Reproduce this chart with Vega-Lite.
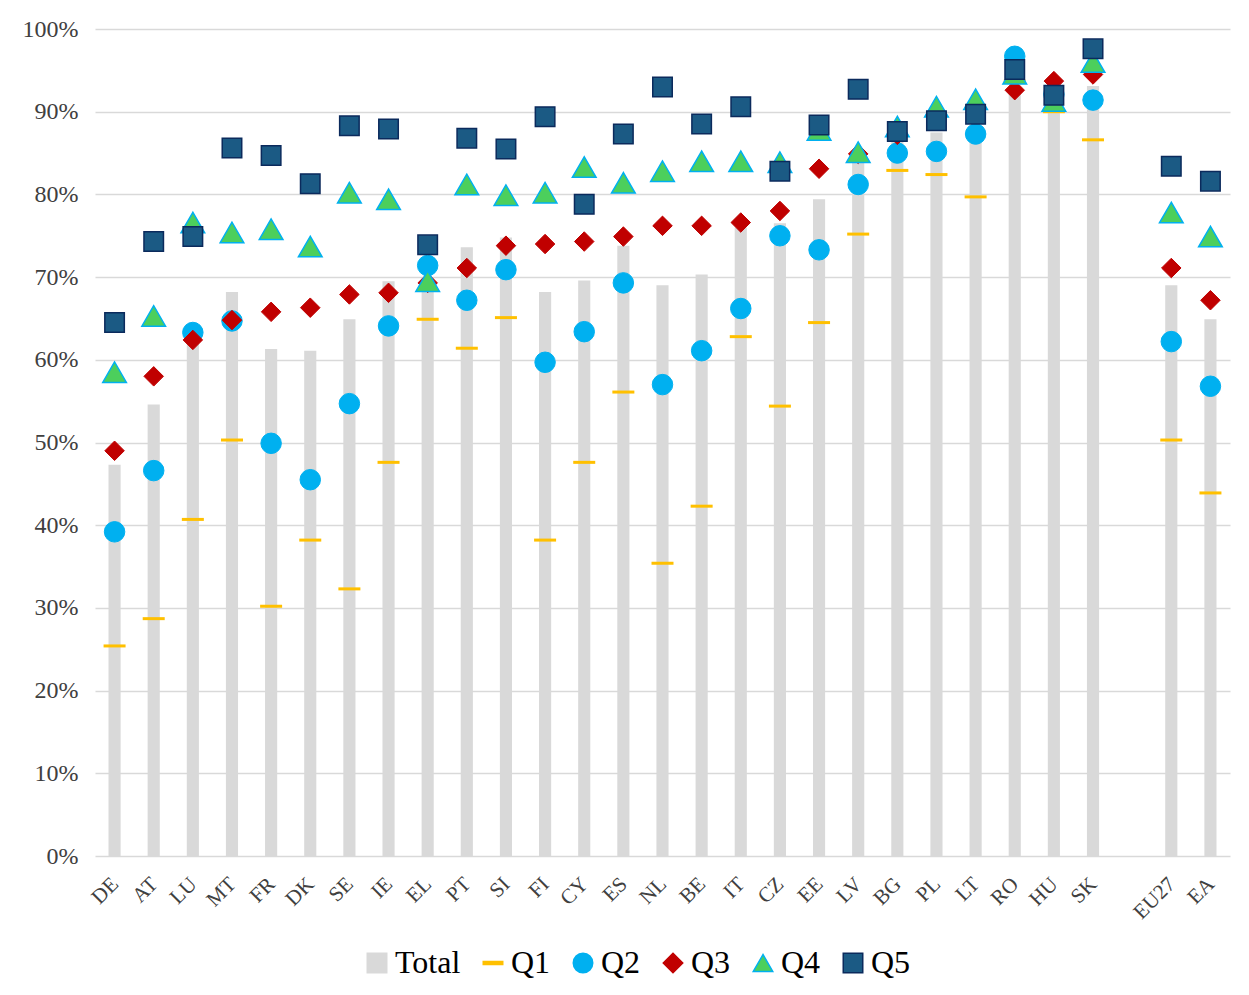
{
  "$schema": "https://vega.github.io/schema/vega-lite/v6.json",
  "autosize": {"type": "none"},
  "width": 1135,
  "height": 827,
  "padding": {"left": 95, "top": 29, "right": 19, "bottom": 139},
  "background": "white",
  "config": {"view": {"stroke": null}, "font": "Liberation Serif"},
  "data": {
    "values": [
      {"country": "DE", "Total": 47.3, "Q1": 25.4, "Q2": 39.2, "Q3": 49.0, "Q4": 58.5, "Q5": 64.5},
      {"country": "AT", "Total": 54.6, "Q1": 28.7, "Q2": 46.6, "Q3": 58.0, "Q4": 65.3, "Q5": 74.3},
      {"country": "LU", "Total": 62.0, "Q1": 40.7, "Q2": 63.3, "Q3": 62.4, "Q4": 76.6, "Q5": 74.9},
      {"country": "MT", "Total": 68.2, "Q1": 50.3, "Q2": 64.7, "Q3": 64.8, "Q4": 75.4, "Q5": 85.6},
      {"country": "FR", "Total": 61.3, "Q1": 30.2, "Q2": 49.9, "Q3": 65.8, "Q4": 75.8, "Q5": 84.7},
      {"country": "DK", "Total": 61.1, "Q1": 38.2, "Q2": 45.5, "Q3": 66.3, "Q4": 73.7, "Q5": 81.3},
      {"country": "SE", "Total": 64.9, "Q1": 32.3, "Q2": 54.7, "Q3": 67.9, "Q4": 80.2, "Q5": 88.3},
      {"country": "IE", "Total": 69.5, "Q1": 47.6, "Q2": 64.1, "Q3": 68.1, "Q4": 79.4, "Q5": 87.9},
      {"country": "EL", "Total": 70.0, "Q1": 64.9, "Q2": 71.4, "Q3": 69.3, "Q4": 69.5, "Q5": 73.9},
      {"country": "PT", "Total": 73.6, "Q1": 61.4, "Q2": 67.2, "Q3": 71.1, "Q4": 81.2, "Q5": 86.8},
      {"country": "SI", "Total": 74.8, "Q1": 65.1, "Q2": 70.9, "Q3": 73.8, "Q4": 79.9, "Q5": 85.5},
      {"country": "FI", "Total": 68.2, "Q1": 38.2, "Q2": 59.7, "Q3": 74.0, "Q4": 80.2, "Q5": 89.4},
      {"country": "CY", "Total": 69.6, "Q1": 47.6, "Q2": 63.4, "Q3": 74.3, "Q4": 83.3, "Q5": 78.8},
      {"country": "ES", "Total": 73.8, "Q1": 56.1, "Q2": 69.3, "Q3": 74.9, "Q4": 81.4, "Q5": 87.3},
      {"country": "NL", "Total": 69.0, "Q1": 35.4, "Q2": 57.0, "Q3": 76.2, "Q4": 82.8, "Q5": 93.0},
      {"country": "BE", "Total": 70.3, "Q1": 42.3, "Q2": 61.1, "Q3": 76.2, "Q4": 84.0, "Q5": 88.5},
      {"country": "IT", "Total": 76.0, "Q1": 62.8, "Q2": 66.2, "Q3": 76.6, "Q4": 84.0, "Q5": 90.6},
      {"country": "CZ", "Total": 76.5, "Q1": 54.4, "Q2": 75.0, "Q3": 78.0, "Q4": 83.9, "Q5": 82.8},
      {"country": "EE", "Total": 79.4, "Q1": 64.5, "Q2": 73.3, "Q3": 83.1, "Q4": 87.8, "Q5": 88.4},
      {"country": "LV", "Total": 84.5, "Q1": 75.2, "Q2": 81.2, "Q3": 84.9, "Q4": 85.1, "Q5": 92.7},
      {"country": "BG", "Total": 86.5, "Q1": 82.9, "Q2": 85.0, "Q3": 87.2, "Q4": 88.2, "Q5": 87.6},
      {"country": "PL", "Total": 87.5, "Q1": 82.4, "Q2": 85.2, "Q3": 89.6, "Q4": 90.6, "Q5": 88.9},
      {"country": "LT", "Total": 88.0, "Q1": 79.7, "Q2": 87.3, "Q3": 89.9, "Q4": 91.5, "Q5": 89.7},
      {"country": "RO", "Total": 93.0, "Q1": 93.7, "Q2": 96.7, "Q3": 92.6, "Q4": 94.6, "Q5": 95.1},
      {"country": "HU", "Total": 91.0, "Q1": 90.0, "Q2": 92.1, "Q3": 93.7, "Q4": 91.3, "Q5": 92.0},
      {"country": "SK", "Total": 93.1, "Q1": 86.6, "Q2": 91.4, "Q3": 94.5, "Q4": 96.0, "Q5": 97.6},
      {"country": "EU27", "Total": 69.0, "Q1": 50.3, "Q2": 62.2, "Q3": 71.1, "Q4": 77.8, "Q5": 83.4},
      {"country": "EA", "Total": 64.9, "Q1": 43.9, "Q2": 56.8, "Q3": 67.2, "Q4": 74.9, "Q5": 81.6}
    ]
  },
  "transform": [{"fold": ["Total", "Q1", "Q2", "Q3", "Q4", "Q5"], "as": ["series", "value"]}],
  "encoding": {
    "x": {
      "field": "country",
      "type": "nominal",
      "sort": null,
      "scale": {
        "domain": ["DE", "AT", "LU", "MT", "FR", "DK", "SE", "IE", "EL", "PT", "SI", "FI", "CY", "ES", "NL", "BE", "IT", "CZ", "EE", "LV", "BG", "PL", "LT", "RO", "HU", "SK", " ", "EU27", "EA"],
        "paddingInner": 0,
        "paddingOuter": 0
      },
      "axis": {
        "title": null,
        "labelAngle": -45,
        "labelFont": "Liberation Serif",
        "labelFontSize": 21,
        "labelColor": "#404040",
        "labelPadding": 17,
        "labelOffset": -7,
        "domain": false,
        "ticks": false,
        "grid": false
      }
    },
    "y": {
      "field": "value",
      "type": "quantitative",
      "stack": null,
      "scale": {"domain": [0, 100], "nice": false},
      "axis": {
        "title": null,
        "values": [0, 10, 20, 30, 40, 50, 60, 70, 80, 90, 100],
        "labelExpr": "datum.value + '%'",
        "labelFont": "Liberation Serif",
        "labelFontSize": 24,
        "labelColor": "#404040",
        "labelPadding": 17,
        "domain": false,
        "ticks": false,
        "grid": true,
        "gridColor": "#d9d9d9",
        "gridWidth": 1.5
      }
    },
    "color": {
      "field": "series",
      "type": "nominal",
      "scale": {
        "domain": ["Total", "Q1", "Q2", "Q3", "Q4", "Q5"],
        "range": ["#d9d9d9", "#ffc000", "#00b0f0", "#c00000", "#4ccf5c", "#1b5a84"]
      },
      "legend": {
        "title": null,
        "orient": "none",
        "legendX": 266,
        "legendY": 918,
        "direction": "horizontal",
        "labelFont": "Liberation Serif",
        "labelFontSize": 32,
        "labelColor": "#000000",
        "symbolSize": 380,
        "symbolStrokeWidth": 1.5,
        "labelOffset": 2,
        "columnPadding": 16
      }
    },
    "shape": {
      "field": "series",
      "type": "nominal",
      "scale": {
        "domain": ["Total", "Q1", "Q2", "Q3", "Q4", "Q5"],
        "range": ["square", "M-1,-0.16H1V0.16H-1Z", "circle", "diamond", "triangle-up", "square"]
      }
    },
    "stroke": {
      "field": "series",
      "type": "nominal",
      "scale": {
        "domain": ["Total", "Q1", "Q2", "Q3", "Q4", "Q5"],
        "range": ["#d9d9d9", "#ffc000", "#00b0f0", "#c00000", "#00b0f0", "#0b2a5c"]
      }
    }
  },
  "layer": [
    {
      "transform": [{"filter": "datum.series === 'Total'"}],
      "mark": {"type": "bar", "width": {"band": 0.31}, "strokeWidth": 0}
    },
    {
      "transform": [{"filter": "datum.series === 'Q1'"}],
      "mark": {"type": "tick", "orient": "horizontal", "size": 22, "thickness": 3, "opacity": 1, "strokeWidth": 0}
    },
    {
      "transform": [{"filter": "datum.series === 'Q2'"}],
      "mark": {"type": "point", "filled": true, "opacity": 1, "size": 420, "strokeWidth": 1}
    },
    {
      "transform": [{"filter": "datum.series === 'Q3'"}],
      "mark": {"type": "point", "filled": true, "opacity": 1, "size": 380, "strokeWidth": 1}
    },
    {
      "transform": [{"filter": "datum.series === 'Q4'"}],
      "mark": {"type": "point", "filled": true, "opacity": 1, "size": 560, "strokeWidth": 1.5}
    },
    {
      "transform": [{"filter": "datum.series === 'Q5'"}],
      "mark": {"type": "point", "filled": true, "opacity": 1, "size": 380, "strokeWidth": 1.5}
    }
  ]
}
